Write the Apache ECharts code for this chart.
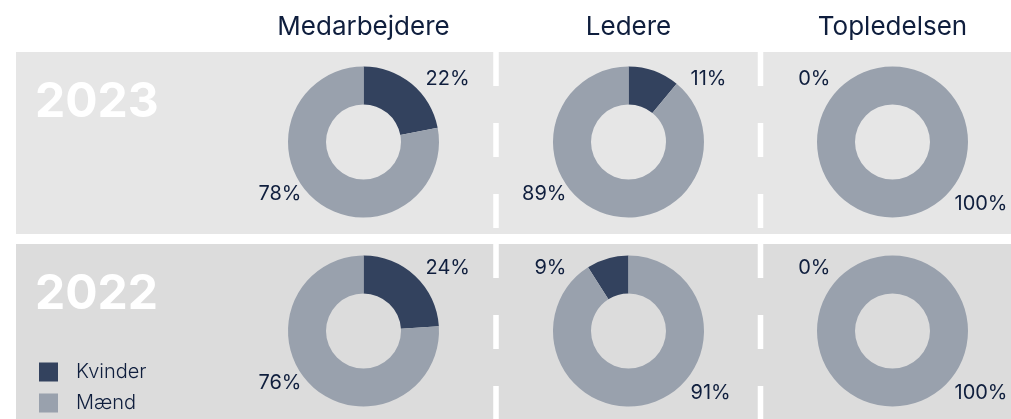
<!DOCTYPE html>
<html>
<head>
<meta charset="utf-8">
<script src="https://cdn.jsdelivr.net/npm/echarts@6/dist/echarts.min.js"></script>
<style>
  html, body { margin: 0; padding: 0; background: #ffffff; }
  #chart { width: 1011px; height: 419px; }
</style>
</head>
<body>
<div id="chart"></div>
<script>
// Kønsfordeling pr. organisatorisk niveau
const categories = ['Medarbejdere', 'Ledere', 'Topledelsen'];
const years = ['2023', '2022'];
const seriesNames = ['Kvinder', 'Mænd'];
const kvinder2023 = [22, 11, 0];
const maend2023 = [78, 89, 100];
const kvinder2022 = [24, 9, 0];
const maend2022 = [76, 91, 100];
// Retning hvor kvindernes andel tegnes fra toppen (true = med uret)
const clockwise2023 = [true, true, false];
const clockwise2022 = [true, false, false];

const KV_COLOR = '#33425e';
const MA_COLOR = '#99a1ad';
const TEXT_COLOR = '#0f1e3d';
const FONT = 'Inter, "Noto Sans", sans-serif';

// Layout
const colX = [363.5, 628.5, 892.5];
const rowY = [142, 331];
const panels = [
  { y: 52, h: 182, fill: '#e6e6e6' },
  { y: 244, h: 175, fill: '#dcdcdc' }
];
const dividerX = [496, 760.5];

const rowsData = [
  { kv: kvinder2023, ma: maend2023, cw: clockwise2023 },
  { kv: kvinder2022, ma: maend2022, cw: clockwise2022 }
];

// Etiketter: kvinder øverst på den side andelen vender mod, mænd nederst modsat
function makeLabelLayout(cx, cy, cw) {
  return function (params) {
    const isKv = params.dataIndex === 0;
    const right = isKv ? cw : !cw;
    const dx = 62;
    let dy;
    if (isKv) dy = -63;
    else dy = right ? 62 : 52;
    return {
      x: cx + (right ? dx : -dx),
      y: cy + dy,
      align: right ? 'left' : 'right',
      verticalAlign: 'middle',
      moveOverlap: null
    };
  };
}

const series = [];
rowsData.forEach((row, r) => {
  categories.forEach((cat, c) => {
    series.push({
      type: 'pie',
      name: years[r] + ' ' + cat,
      center: [colX[c], rowY[r]],
      radius: [37.5, 75.5],
      startAngle: 90,
      clockwise: row.cw[c],
      avoidLabelOverlap: false,
      minShowLabelAngle: 0,
      silent: true,
      itemStyle: { borderWidth: 0 },
      label: {
        show: true,
        position: 'outside',
        formatter: p => p.value + '%',
        color: TEXT_COLOR,
        fontFamily: FONT,
        fontSize: 20
      },
      labelLine: { show: false },
      labelLayout: makeLabelLayout(colX[c], rowY[r], row.cw[c]),
      emphasis: { disabled: true },
      data: [
        { name: seriesNames[0], value: row.kv[c] },
        { name: seriesNames[1], value: row.ma[c] }
      ]
    });
  });
});

const graphics = [];
panels.forEach(p => {
  graphics.push({
    type: 'rect', z: -10,
    shape: { x: 16, y: p.y, width: 995, height: p.h },
    style: { fill: p.fill }
  });
  dividerX.forEach(x => {
    graphics.push({
      type: 'line', z: -5,
      shape: { x1: x, y1: p.y, x2: x, y2: p.y + p.h },
      style: { stroke: '#ffffff', lineWidth: 5.5, lineDash: [34, 37] }
    });
  });
});
categories.forEach((cat, c) => {
  graphics.push({
    type: 'text', z: 5,
    x: colX[c], y: 27,
    style: {
      text: cat, fill: TEXT_COLOR, font: '26px ' + FONT,
      textAlign: 'center', textVerticalAlign: 'middle'
    }
  });
});
years.forEach((yr, r) => {
  graphics.push({
    type: 'text', z: 5,
    x: 35, y: panels[r].y + 50.5,
    style: {
      text: yr, fill: '#ffffff', font: 'bold 48px ' + FONT,
      textAlign: 'left', textVerticalAlign: 'middle'
    }
  });
});

const chart = echarts.init(document.getElementById('chart'), null, { renderer: 'canvas' });
chart.setOption({
  animation: false,
  backgroundColor: '#ffffff',
  color: [KV_COLOR, MA_COLOR],
  legend: {
    data: seriesNames,
    orient: 'vertical',
    left: 39,
    top: 362,
    padding: 0,
    itemWidth: 19,
    itemHeight: 19,
    itemGap: 11,
    icon: 'rect',
    selectedMode: false,
    textStyle: {
      color: TEXT_COLOR, fontFamily: FONT, fontSize: 20, fontWeight: 300,
      padding: [0, 0, 0, 13]
    }
  },
  graphic: graphics,
  series: series
});
</script>
</body>
</html>
